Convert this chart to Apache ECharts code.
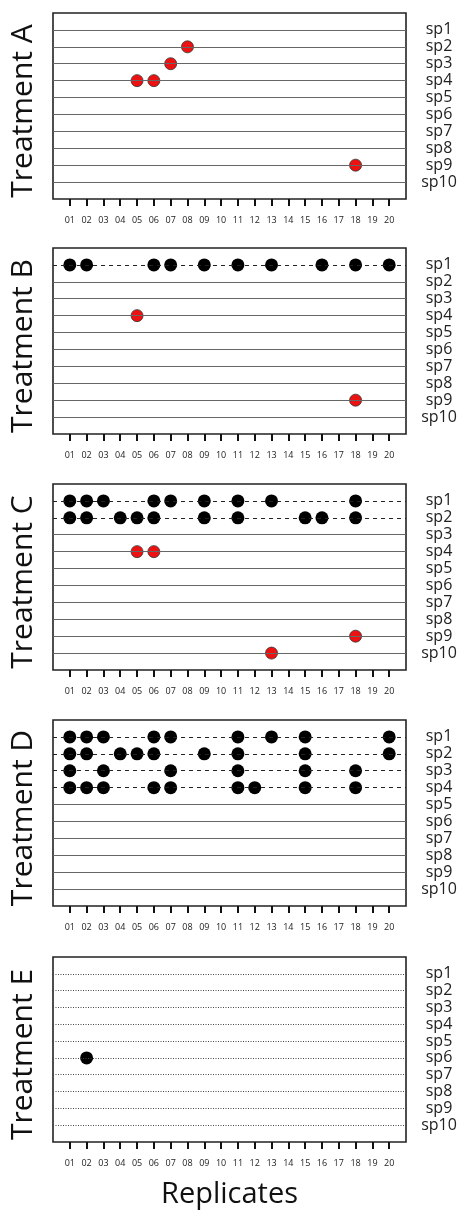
<!DOCTYPE html>
<html>
<head>
<meta charset="utf-8">
<script src="https://cdn.jsdelivr.net/npm/echarts@6/dist/echarts.min.js"></script>
<style>
html,body{margin:0;padding:0;background:#fff;}
#chart{width:462px;height:1210px;}
</style>
</head>
<body>
<div id="chart"></div>
<script>
// ---- data ----
const replicateLabels = ['01','02','03','04','05','06','07','08','09','10','11','12','13','14','15','16','17','18','19','20'];
const species = ['sp1','sp2','sp3','sp4','sp5','sp6','sp7','sp8','sp9','sp10'];
const treatments = ['Treatment A','Treatment B','Treatment C','Treatment D','Treatment E'];

// [replicate, species number]
const redA = [[8,2],[7,3],[5,4],[6,4],[18,9]];
const blackA = [];
const redB = [[5,4],[18,9]];
const blackB = [[1,1],[2,1],[6,1],[7,1],[9,1],[11,1],[13,1],[16,1],[18,1],[20,1]];
const redC = [[5,4],[6,4],[18,9],[13,10]];
const blackC = [[1,1],[2,1],[3,1],[6,1],[7,1],[9,1],[11,1],[13,1],[18,1],
                [1,2],[2,2],[4,2],[5,2],[6,2],[9,2],[11,2],[15,2],[16,2],[18,2]];
const redD = [];
const blackD = [[1,1],[2,1],[3,1],[6,1],[7,1],[11,1],[13,1],[15,1],[20,1],
                [1,2],[2,2],[4,2],[5,2],[6,2],[9,2],[11,2],[15,2],[20,2],
                [1,3],[3,3],[7,3],[11,3],[15,3],[18,3],
                [1,4],[2,4],[3,4],[6,4],[7,4],[11,4],[12,4],[15,4],[18,4]];
const redE = [];
const blackE = [[2,6]];

const redSets = [redA, redB, redC, redD, redE];
const blackSets = [blackA, blackB, blackC, blackD, blackE];

// ---- styles / layout ----
const gridTops = [13, 248, 484, 720, 957];
const gridHeight = 186;
function guideType(panel, row) {
  if (panel === 4) return [1, 1.5];
  if (panel === 1 && row <= 1) return [4, 4];
  if (panel === 2 && row <= 2) return [4, 4];
  if (panel === 3 && row <= 4) return [4, 4];
  return 'solid';
}
function guideColor(panel, row) {
  const t = guideType(panel, row);
  if (panel === 4) return '#444';
  return t === 'solid' ? '#666' : '#222';
}

const replicateValues = replicateLabels.map(l => parseInt(l, 10));
const speciesValues = species.map((s, i) => i + 1);

const grids = [], xAxes = [], yAxes = [], series = [];
treatments.forEach((name, p) => {
  grids.push({left: 52, right: 56, top: gridTops[p], height: gridHeight,
    show: true, borderColor: '#222', borderWidth: 1.6, backgroundColor: '#fff'});
  xAxes.push({
    type: 'value', gridIndex: p, min: 0, max: replicateValues.length + 1,
    position: 'bottom',
    axisLine: {show: false, onZero: false},
    splitLine: {show: false},
    axisTick: {show: true, inside: false, length: 7, customValues: replicateValues,
      lineStyle: {color: '#111', width: 2}},
    axisLabel: {show: true, customValues: replicateValues, margin: 17,
      formatter: v => replicateLabels[v - 1], fontSize: 9, color: '#222',
      fontFamily: 'Open Sans'},
    name: p === treatments.length - 1 ? 'Replicates' : '',
    nameLocation: 'middle', nameGap: 38,
    nameTextStyle: {fontSize: 29, color: '#111', fontFamily: 'Open Sans'}
  });
  // left axis for treatment name
  yAxes.push({
    type: 'value', gridIndex: p, min: 0, max: species.length + 1, inverse: true,
    position: 'left',
    axisLine: {show: false, onZero: false}, axisTick: {show: false}, axisLabel: {show: false},
    splitLine: {show: false},
    name: name, nameLocation: 'middle', nameRotate: 90, nameGap: 15,
    nameTextStyle: {fontSize: 30, color: '#111', fontFamily: 'Open Sans', padding: [0, 10, 0, 0]}
  });
  // right axis for species labels
  yAxes.push({
    type: 'value', gridIndex: p, min: 0, max: species.length + 1, inverse: true,
    position: 'right',
    axisLine: {show: false, onZero: false}, axisTick: {show: false}, splitLine: {show: false},
    axisLabel: {show: true, customValues: speciesValues, margin: 33, align: 'center',
      formatter: v => species[v - 1], fontSize: 16, color: '#222', fontFamily: 'Open Sans'}
  });
  const yi = p * 2;
  series.push({
    type: 'scatter', xAxisIndex: p, yAxisIndex: yi, data: [], z: 1, silent: true,
    markLine: {
      silent: true, symbol: ['none', 'none'], label: {show: false}, animation: false,
      data: speciesValues.map(r => ({yAxis: r,
        lineStyle: {type: guideType(p, r), color: guideColor(p, r), width: 1}}))
    }
  });
  series.push({
    type: 'scatter', xAxisIndex: p, yAxisIndex: yi, data: blackSets[p], z: 3,
    symbolSize: 13, itemStyle: {color: '#000', opacity: 1}
  });
  series.push({
    type: 'scatter', xAxisIndex: p, yAxisIndex: yi, data: redSets[p], z: 4,
    symbolSize: 12, itemStyle: {color: '#ee1111', borderColor: '#333', borderWidth: 0.8, opacity: 1}
  });
});

const chart = echarts.init(document.getElementById('chart'), null, {renderer: 'canvas'});
chart.setOption({
  animation: false,
  backgroundColor: '#fff',
  grid: grids, xAxis: xAxes, yAxis: yAxes, series: series
});
</script>
</body>
</html>
